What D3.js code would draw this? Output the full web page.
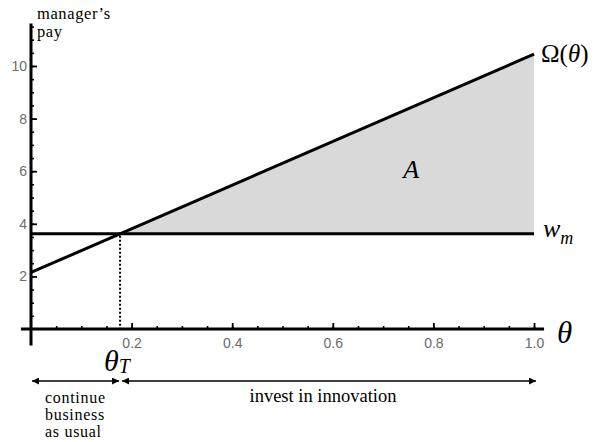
<!DOCTYPE html>
<html lang="en">
    <head>
        <meta charset="utf-8">
        <title>Manager's pay vs theta</title>
        <script type="text/javascript" src="https://d3js.org/d3.v7.min.js"></script>
        <style type="text/css">
            body { margin: 0; background: #fff; }
        </style>
    </head>
    <body>
        <script type="text/javascript">

            // data
            var thetaMajor = [0.2, 0.4, 0.6, 0.8, 1.0];
            var thetaMinor = d3.range(1, 21).map(function(i){ return i * 0.05; });
            var payMajor = [2, 4, 6, 8, 10];
            var payMinor = d3.range(1, 24).map(function(i){ return i * 0.5; });
            var omegaTheta = [0, 1];          // theta at the ends of Omega line
            var omegaValues = [2.15, 10.45];  // Omega(theta) at those ends
            var wageValue = 3.62;             // w_m

            var w = 595, h = 442;
            var serif = "'Liberation Serif', 'Times New Roman', serif";
            var sans = "'Liberation Sans', Arial, sans-serif";

            var svg = d3.select("body").append("svg")
                .attr("width", w)
                .attr("height", h);

            var xScale = d3.scaleLinear().domain([0, 1]).range([31, 534]);
            var yScale = d3.scaleLinear().domain([0, 10]).range([329, 66]);

            // theta_T where Omega meets w_m
            var slope = (omegaValues[1] - omegaValues[0]) / (omegaTheta[1] - omegaTheta[0]);
            var omega = function(t){ return omegaValues[0] + slope * (t - omegaTheta[0]); };
            var thetaT = omegaTheta[0] + (wageValue - omegaValues[0]) / slope;

            // shaded area A
            svg.append("path")
                .datum([thetaT, omegaTheta[1]])
                .attr("fill", "#d9d9d9")
                .attr("d", d3.area()
                    .x(function(d){ return xScale(d); })
                    .y0(yScale(wageValue))
                    .y1(function(d){ return yScale(omega(d)); }));

            function styleAxis(g, sw) {
                g.select(".domain").remove();
                g.selectAll("line").attr("stroke-width", sw);
                g.selectAll("text")
                    .style("font-family", sans)
                    .style("font-size", "14px")
                    .style("fill", "#6b6b6b");
            }

            // minor ticks
            svg.append("g")
                .attr("transform", "translate(0," + yScale(0) + ")")
                .call(d3.axisBottom(xScale).tickValues(thetaMinor).tickSize(-3).tickFormat(""))
                .call(styleAxis, 1.6);

            svg.append("g")
                .attr("transform", "translate(" + xScale(0) + ",0)")
                .call(d3.axisLeft(yScale).tickValues(payMinor).tickSize(-3).tickFormat(""))
                .call(styleAxis, 1.6);

            // major ticks with labels
            svg.append("g")
                .attr("transform", "translate(0," + yScale(0) + ")")
                .call(d3.axisBottom(xScale).tickValues(thetaMajor).tickSize(-6).tickPadding(9).tickFormat(d3.format(".1f")))
                .call(styleAxis, 1.8);

            svg.append("g")
                .attr("transform", "translate(" + xScale(0) + ",0)")
                .call(d3.axisLeft(yScale).tickValues(payMajor).tickSize(-6).tickPadding(4).tickFormat(d3.format("d")))
                .call(styleAxis, 1.8);

            // axis lines (extend a bit past the domain like the original)
            svg.append("line")
                .attr("x1", xScale(-0.02)).attr("x2", xScale(1.02))
                .attr("y1", yScale(0)).attr("y2", yScale(0))
                .attr("stroke", "#000").attr("stroke-width", 3);
            svg.append("line")
                .attr("x1", xScale(0)).attr("x2", xScale(0))
                .attr("y1", yScale(-0.63)).attr("y2", yScale(11.62))
                .attr("stroke", "#000").attr("stroke-width", 3);

            // w_m line
            svg.append("line")
                .attr("x1", xScale(0)).attr("x2", xScale(1))
                .attr("y1", yScale(wageValue)).attr("y2", yScale(wageValue))
                .attr("stroke", "#000").attr("stroke-width", 3);

            // Omega line
            svg.append("path")
                .datum(omegaTheta)
                .attr("fill", "none")
                .attr("stroke", "#000")
                .attr("stroke-width", 3)
                .attr("d", d3.line()
                    .x(function(d){ return xScale(d); })
                    .y(function(d){ return yScale(omega(d)); }));

            // dotted drop line at theta_T
            svg.append("line")
                .attr("x1", xScale(thetaT)).attr("x2", xScale(thetaT))
                .attr("y1", yScale(wageValue) + 2).attr("y2", yScale(0))
                .attr("stroke", "#000").attr("stroke-width", 2)
                .attr("stroke-dasharray", "2,2");

            // text helper
            function label(x, y, size) {
                return svg.append("text")
                    .attr("x", x).attr("y", y)
                    .style("font-family", serif)
                    .style("font-size", size + "px")
                    .style("fill", "#000");
            }

            var ylab = label(37, 19, 16.5).style("letter-spacing", "0.6px");
            ylab.append("tspan").attr("x", 37).attr("y", 19).text("manager’s");
            ylab.append("tspan").attr("x", 37).attr("y", 37).text("pay");

            var om = label(541, 62, 25);
            om.append("tspan").text("Ω(");
            om.append("tspan").style("font-style", "italic").text("θ");
            om.append("tspan").text(")");

            var wm = label(543, 237, 26).style("font-style", "italic");
            wm.append("tspan").text("w");
            wm.append("tspan").style("font-size", "18px").attr("dy", 6.5).text("m");

            label(557, 343, 31).style("font-style", "italic").text("θ");

            var tt = label(104, 371, 30).style("font-style", "italic");
            tt.append("tspan").text("θ");
            tt.append("tspan").style("font-size", "20px").attr("dy", 2).text("T");

            label(xScale(0.74), 178, 26).style("font-style", "italic").text("A");

            // arrows below the axis
            svg.append("defs").append("marker")
                .attr("id", "head")
                .attr("viewBox", "0 0 10 10")
                .attr("refX", 10).attr("refY", 5)
                .attr("markerWidth", 9).attr("markerHeight", 7)
                .attr("markerUnits", "userSpaceOnUse")
                .attr("orient", "auto-start-reverse")
                .append("path")
                .attr("d", "M0,0 L10,5 L0,10 Z")
                .attr("fill", "#000");

            var arrowY = 381;
            svg.append("line")
                .attr("x1", xScale(0) + 1).attr("x2", xScale(thetaT) - 1)
                .attr("y1", arrowY).attr("y2", arrowY)
                .attr("stroke", "#000").attr("stroke-width", 1.5)
                .attr("marker-start", "url(#head)").attr("marker-end", "url(#head)");
            svg.append("line")
                .attr("x1", xScale(thetaT) + 2).attr("x2", xScale(1) + 2)
                .attr("y1", arrowY).attr("y2", arrowY)
                .attr("stroke", "#000").attr("stroke-width", 1.5)
                .attr("marker-start", "url(#head)").attr("marker-end", "url(#head)");

            var cb = label(45, 403, 16).style("letter-spacing", "0.7px");
            ["continue", "business", "as usual"].forEach(function(s, i){
                cb.append("tspan").attr("x", 45).attr("y", 402.5 + i * 17.3).text(s);
            });

            label(323, 401.5, 18.5).attr("text-anchor", "middle").text("invest in innovation");
        </script>
    </body>
</html>
